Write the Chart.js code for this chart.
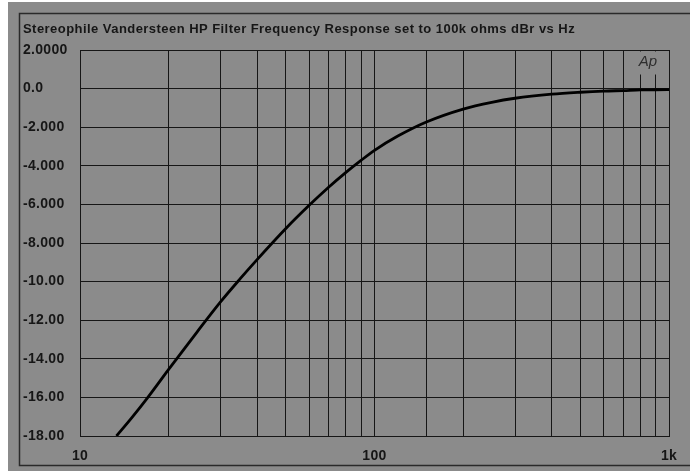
<!DOCTYPE html>
<html>
<head>
<meta charset="utf-8">
<script src="https://cdn.jsdelivr.net/npm/chart.js@4/dist/chart.umd.min.js"></script>
<style>
html,body{margin:0;padding:0;background:#ffffff;}
#wrap{width:690px;height:471px;position:relative;}
</style>
</head>
<body>
<div id="wrap"><canvas id="c" width="690" height="471"></canvas></div>
<script>
const chartTitle = 'Stereophile Vandersteen HP Filter Frequency Response set to 100k ohms dBr vs Hz';
const freqHz = [13.3, 15, 17, 20, 25, 30, 35, 40, 50, 60, 70, 80, 90, 100, 120, 150, 200, 250, 300, 400, 500, 600, 700, 800, 900, 1000];
const levelDbr = [-18.0, -17.05, -16.0, -14.55, -12.6, -11.05, -9.85, -8.85, -7.25, -6.05, -5.1, -4.34, -3.72, -3.2, -2.46, -1.73, -1.06, -0.71, -0.5, -0.29, -0.19, -0.13, -0.1, -0.07, -0.06, -0.05];
const yTickValues = [2, 0, -2, -4, -6, -8, -10, -12, -14, -16, -18];
const yTickLabels = ['2.0000', '0.0', '-2.000', '-4.000', '-6.000', '-8.000', '-10.00', '-12.00', '-14.00', '-16.00', '-18.00'];
const xTickValues = [10, 100, 1000];
const xTickLabels = ['10', '100', '1k'];

const BG = '#8b8b8b';
const INK = '#161616';
const FONT = "'Liberation Sans', Arial, sans-serif";

const framePlugin = {
  id: 'frame',
  beforeDraw(chart) {
    const ctx = chart.ctx;
    ctx.save();
    ctx.fillStyle = '#ffffff';
    ctx.fillRect(0, 0, chart.width, chart.height);
    ctx.fillStyle = BG;
    ctx.fillRect(8, 2, chart.width - 8, chart.height - 2);
    ctx.strokeStyle = '#2a2a2a';
    ctx.lineWidth = 1.5;
    ctx.beginPath();
    ctx.moveTo(chart.width, 13.5);
    ctx.lineTo(19.5, 13.5);
    ctx.lineTo(19.5, 465.5);
    ctx.lineTo(chart.width, 465.5);
    ctx.stroke();
    ctx.fillStyle = INK;
    ctx.font = 'bold 13px ' + FONT;
    ctx.letterSpacing = '0.45px';
    ctx.textBaseline = 'middle';
    ctx.textAlign = 'left';
    ctx.fillText(chartTitle, 23, 29);
    ctx.restore();
    ctx.letterSpacing = '0.3px';
  },
  afterDatasetsDraw(chart) {
    const ctx = chart.ctx;
    const a = chart.chartArea;
    ctx.save();
    ctx.letterSpacing = '0px';
    ctx.fillStyle = BG;
    ctx.fillRect(633, a.top + 1.5, 31, 23);
    ctx.fillStyle = '#2e2e2e';
    ctx.font = 'italic 15px ' + FONT;
    ctx.textAlign = 'center';
    ctx.textBaseline = 'middle';
    ctx.fillText('Ap', 648, 62);
    ctx.restore();
  }
};

new Chart(document.getElementById('c'), {
  type: 'line',
  data: {
    datasets: [{
      data: freqHz.map((f, i) => ({x: f, y: levelDbr[i]})),
      borderColor: '#000000',
      borderWidth: 2.8,
      pointRadius: 0,
      cubicInterpolationMode: 'monotone',
      fill: false
    }]
  },
  options: {
    responsive: false,
    animation: false,
    devicePixelRatio: 1,
    layout: {padding: {left: 23, top: 50, right: 21, bottom: 0}},
    plugins: {legend: {display: false}, tooltip: {enabled: false}, title: {display: false}},
    scales: {
      x: {
        type: 'logarithmic',
        min: 10,
        max: 1000,
        afterFit(s) { s.height = 35; },
        grid: {color: INK, lineWidth: 1, drawTicks: false},
        border: {display: true, color: INK, width: 1},
        ticks: {
          autoSkip: false,
          maxRotation: 0,
          padding: 12,
          color: INK,
          font: {family: FONT, size: 14, weight: 'bold'},
          callback(v) {
            const i = xTickValues.indexOf(Math.round(v));
            return i >= 0 ? xTickLabels[i] : '';
          }
        }
      },
      y: {
        type: 'linear',
        min: -18,
        max: 2,
        afterFit(s) { s.width = 57; },
        afterBuildTicks(s) { s.ticks = yTickValues.map(v => ({value: v})); },
        grid: {color: INK, lineWidth: 1, drawTicks: false},
        border: {display: true, color: INK, width: 1},
        ticks: {
          crossAlign: 'far',
          color: INK,
          font: {family: FONT, size: 14, weight: 'bold'},
          callback(v) {
            const i = yTickValues.indexOf(v);
            return i >= 0 ? yTickLabels[i] : '';
          }
        }
      }
    }
  },
  plugins: [framePlugin]
});
</script>
</body>
</html>
